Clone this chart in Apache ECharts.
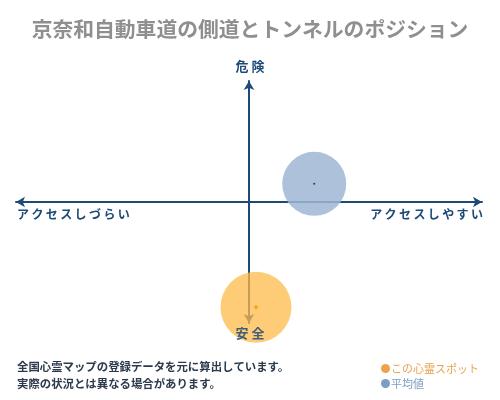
<!DOCTYPE html>
<html><head><meta charset="utf-8">
<script src="https://cdn.jsdelivr.net/npm/echarts@6/dist/echarts.min.js"></script>
<style>html,body{margin:0;padding:0;background:#fff}#c{width:500px;height:400px}</style>
</head><body><div id="c"></div>
<script>
const titleText = '京奈和自動車道の側道とトンネルのポジション';
const seriesNames = ['この心霊スポット', '平均値'];
const spotPoint = [0.3, -8.7];
const avgPoint = [2.8, 1.5];
const axisLabels = { top: '危 険', bottom: '安 全', left: 'ア\u2009ク\u2009セ\u2009ス\u2009し\u2009づ\u2009ら\u2009い', right: 'ア\u2009ク\u2009セ\u2009ス\u2009し\u2009や\u2009す\u2009い' };
const noteLines = ['全国心霊マップの登録データを元に算出しています。', '実際の状況とは異なる場合があります。'];

const navy = '#1d4a78';
const font = '"Noto Sans CJK JP", sans-serif';
const chart = echarts.init(document.getElementById('c'));
const axisCommon = {
  type: 'value', min: -10, max: 10,
  axisLine: { show: true, onZero: true, symbol: ['arrow', 'arrow'], symbolSize: [8, 9], lineStyle: { color: navy, width: 2 } },
  axisTick: { show: false }, axisLabel: { show: false }, splitLine: { show: false }
};
chart.setOption({
  backgroundColor: '#fff',
  textStyle: { fontFamily: font },
  title: { text: titleText, left: 'center', top: 14, textStyle: { fontFamily: font, fontSize: 20.8, fontWeight: 'bold', color: '#8f8f8f' } },
  grid: { left: 16, right: 18, top: 81, bottom: 77 },
  xAxis: axisCommon,
  yAxis: axisCommon,
  legend: {
    orient: 'vertical', left: 376, top: 358, itemWidth: 9, itemHeight: 9, itemGap: 4, icon: 'circle',
    textStyle: { fontFamily: font, fontSize: 11, padding: [0, 0, 0, -4] },
    data: [
      { name: seriesNames[0], itemStyle: { color: '#f0a24a', opacity: 1 }, textStyle: { color: '#e8a24f' } },
      { name: seriesNames[1], itemStyle: { color: '#7c9ec4', opacity: 1 }, textStyle: { color: '#7c9ec4' } }
    ]
  },
  series: [
    { name: seriesNames[1], type: 'scatter', z: 3, symbolSize: 64, data: [avgPoint], itemStyle: { color: '#9fb7d3', opacity: 0.85 }, silent: true },
    { name: seriesNames[1], type: 'scatter', z: 4, symbolSize: 2, data: [avgPoint], itemStyle: { color: '#111' }, silent: true },
    { name: seriesNames[0], type: 'scatter', z: 3, symbolSize: 71, data: [spotPoint], itemStyle: { color: '#fdbb4a', opacity: 0.75 }, silent: true },
    { name: seriesNames[0], type: 'scatter', z: 4, symbol: 'diamond', symbolSize: 5, data: [spotPoint], itemStyle: { color: '#f39c12' }, silent: true }
  ],
  graphic: [
    { type: 'text', left: 'center', top: 60, style: { text: axisLabels.top, font: 'bold 13px ' + font, fill: navy } },
    { type: 'text', left: 'center', top: 327, z: 10, style: { text: axisLabels.bottom, font: 'bold 13px ' + font, fill: navy, opacity: 0.85 } },
    { type: 'text', left: 17, top: 208, style: { text: axisLabels.left, font: 'bold 12px ' + font, fill: navy } },
    { type: 'text', right: 17, top: 208, style: { text: axisLabels.right, font: 'bold 12px ' + font, fill: navy } },
    { type: 'text', left: 17, top: 358, style: { text: noteLines.join('\n'), font: 'bold 11.4px ' + font, fill: '#2b3a4c', lineHeight: 17 } }
  ]
});
</script></body></html>
